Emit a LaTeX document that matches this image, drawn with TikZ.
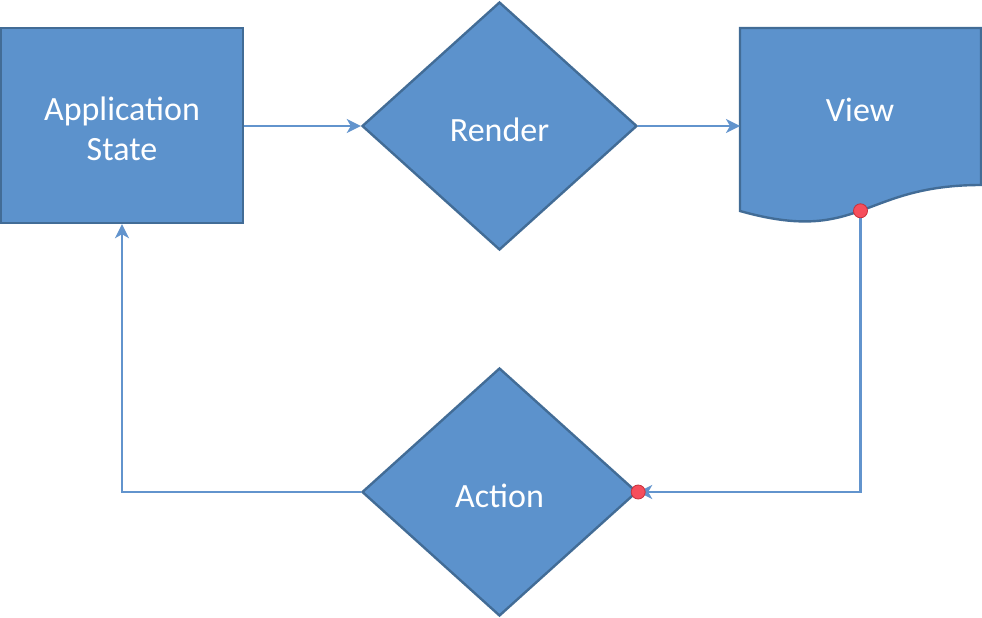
\documentclass[tikz,border=0pt]{standalone}
\usepackage{fontspec}
\setmainfont{Carlito}
\usetikzlibrary{shapes.geometric,arrows.meta}
\definecolor{boxfill}{RGB}{92,146,204}
\definecolor{boxedge}{RGB}{66,108,150}
\definecolor{linkblue}{RGB}{98,148,205}
\definecolor{dotred}{RGB}{246,78,92}
\definecolor{dotedge}{RGB}{200,50,60}
\begin{document}
\begin{tikzpicture}[x=1pt,y=-1pt,
  shapebox/.style={fill=boxfill,draw=boxedge,line width=2.4pt,text=white,
    font=\fontsize{34}{40}\selectfont,align=center,inner sep=0pt},
  diam/.style={shapebox,diamond,minimum width=275pt,minimum height=248pt},
  lbl/.style={text=white,font=\fontsize{34}{40}\selectfont,align=center,inner sep=0pt},
  link/.style={draw=linkblue,line width=2.4pt,-{Stealth[length=14pt,width=14pt,inset=4pt]}},
  reddot/.style={circle,fill=dotred,draw=dotedge,line width=0.8pt,minimum size=14pt,inner sep=0pt}]
\useasboundingbox (0,0) rectangle (982,618);
\node[shapebox,minimum width=242pt,minimum height=195pt] (app) at (122,125.5) {};
\node[lbl] (applbl) at (122,129) {Application\\State};
\node[diam] (render) at (499.5,126) {};
\node[lbl] (renderlbl) at (499.5,130) {Render};
\node[diam] (action) at (499.5,492) {};
\node[lbl] (actionlbl) at (499.5,496) {Action};
\draw[fill=boxfill,draw=boxedge,line width=2.4pt]
  (740,28) -- (981,28) -- (981,185)
  .. controls (860.5,185) and (860.5,245) .. (740,211) -- cycle;
\node[lbl] (view) at (860,110) {View};
\coordinate (viewleft) at (740,126);
\coordinate (viewbot) at (860.5,210.8);
\coordinate (c1) at (860.5,492);
\coordinate (c2) at (122,492);
\draw[link] (app.east |- render.west) -- (render.west);
\draw[link] (render.east) -- (viewleft);
\draw[link] (viewbot) -- (c1) -- (action.east);
\draw[link] (action.west) -- (c2) -- (app.south);
\node[reddot] (dot1) at (viewbot) {};
\node[reddot] (dot2) at (action.east) {};
\end{tikzpicture}
\end{document}
